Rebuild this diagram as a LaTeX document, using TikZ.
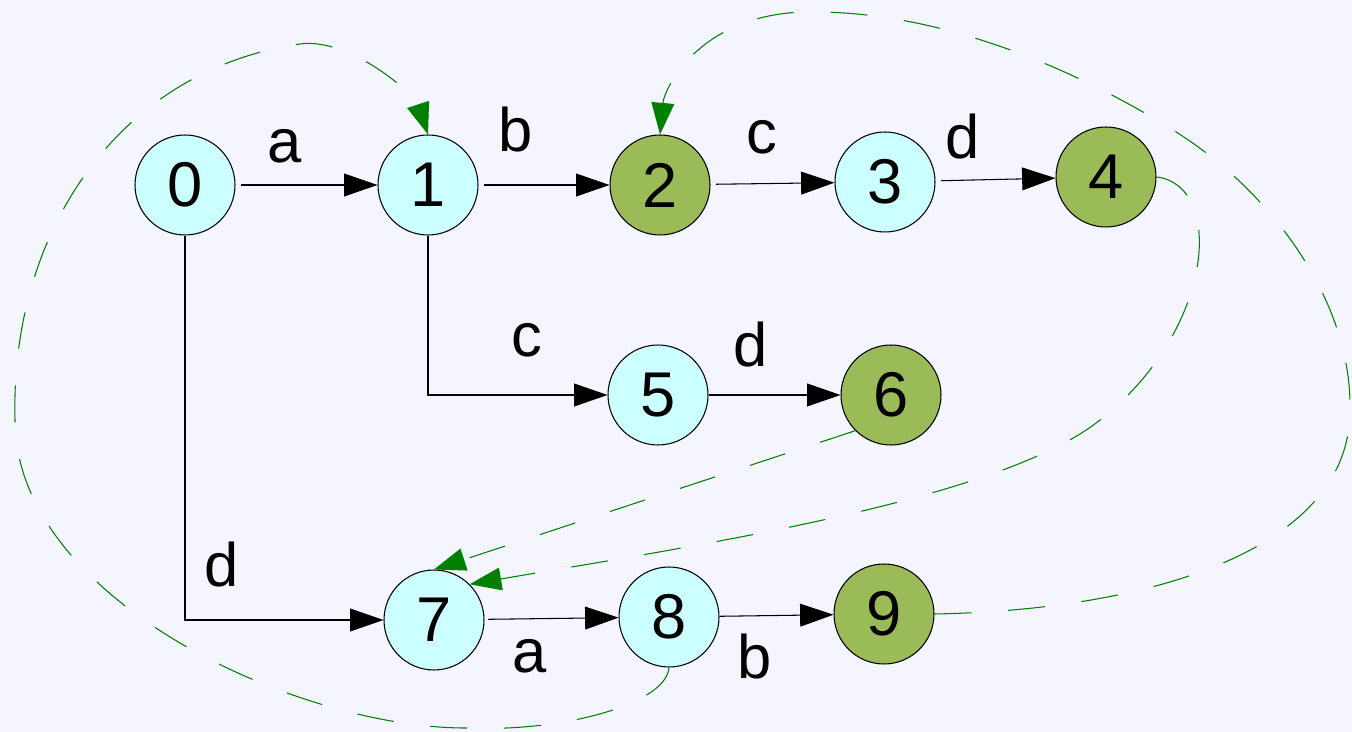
\documentclass[tikz,border=0pt]{standalone}
\usepackage{fontspec}
\setmainfont{Liberation Sans}
\usepackage{tikz}
\usetikzlibrary{arrows.meta,positioning}
\definecolor{bgcol}{RGB}{244,245,254}
\definecolor{statecol}{RGB}{204,255,255}
\definecolor{finalcol}{RGB}{155,187,89}
\definecolor{failcol}{RGB}{0,128,0}

\begin{document}
\begin{tikzpicture}[x=0.02cm,y=-0.02cm]
  \tikzstyle{every path}=[line width=0.6pt]

  \tikzstyle{st}=[circle,draw,fill=statecol,minimum size=2cm,inner sep=0pt,font=\fontsize{36}{40}\selectfont]
  \tikzstyle{fin}=[st,fill=finalcol]
  \tikzstyle{lbl}=[inner sep=0pt,font=\fontsize{35}{40}\selectfont]
  \tikzstyle{tr}=[draw,-{Triangle[length=19pt,width=13pt]}]
  \tikzstyle{fl}=[draw=failcol,dash pattern=on 21pt off 21pt,-{Triangle[length=18pt,width=13pt]}]

  \fill[bgcol] (0,0) rectangle (1352,732);
  \useasboundingbox (0,0) rectangle (1352,732);

  %% Draw trie states
  \node[st]  (s0) at (185,185) {0};
  \node[st]  (s1) at (428,185) {1};
  \node[fin] (s2) at (660,185) {2};
  \node[st]  (s3) at (885,182) {3};
  \node[fin] (s4) at (1106,177) {4};
  \node[st]  (s5) at (658,395) {5};
  \node[fin] (s6) at (891,395) {6};
  \node[st]  (s7) at (434,620) {7};
  \node[st]  (s8) at (669,617) {8};
  \node[fin] (s9) at (884,614) {9};

  %% goto edges
  \draw[tr,shorten <=3pt] (s0) -- (s1);
  \draw[tr,shorten <=3pt] (s1) -- (s2);
  \draw[tr,shorten <=3pt] (s2) -- (s3);
  \draw[tr,shorten <=3pt] (s3) -- (s4);
  \draw[tr] (s1.south) |- (s5.west);
  \draw[tr] (s5) -- (s6);
  \draw[tr] (s0.south) |- (s7.west);
  \draw[tr,shorten <=2pt] (s7) -- (s8);
  \draw[tr] (s8) -- (s9);

  \node[lbl] (l01) at (285,146) {a};
  \node[lbl] (l12) at (516,130) {b};
  \node[lbl] (l23) at (762,137) {c};
  \node[lbl] (l34) at (963,137) {d};
  \node[lbl] (l15) at (527,340) {c};
  \node[lbl] (l56) at (751,345) {d};
  \node[lbl] (l07) at (222,565) {d};
  \node[lbl] (l78) at (530,656) {a};
  \node[lbl] (l89) at (755,657) {b};

  %% failure links
  \draw[fl] (s8.south) .. controls (666,705) and (560,732) .. (470,728)
    .. controls (300,730) and (15,600) .. (15,420)
    .. controls (10,230) and (120,70) .. (300,44)
    .. controls (350,37) and (415,95) .. (s1.north);
  \draw[fl] (s9.east) .. controls (1150,610) and (1350,550) .. (1350,410)
    .. controls (1352,300) and (1270,190) .. (1173,130)
    .. controls (1080,72) and (950,14) .. (820,12)
    .. controls (700,8) and (664,90) .. (s2.north);
  \draw[fl] (s6.225) -- (s7.north);
  \draw[fl] (s4.east) .. controls (1225,185) and (1215,330) .. (1100,420)
    .. controls (1000,500) and (700,545) .. (s7.45);
\end{tikzpicture}
\end{document}
